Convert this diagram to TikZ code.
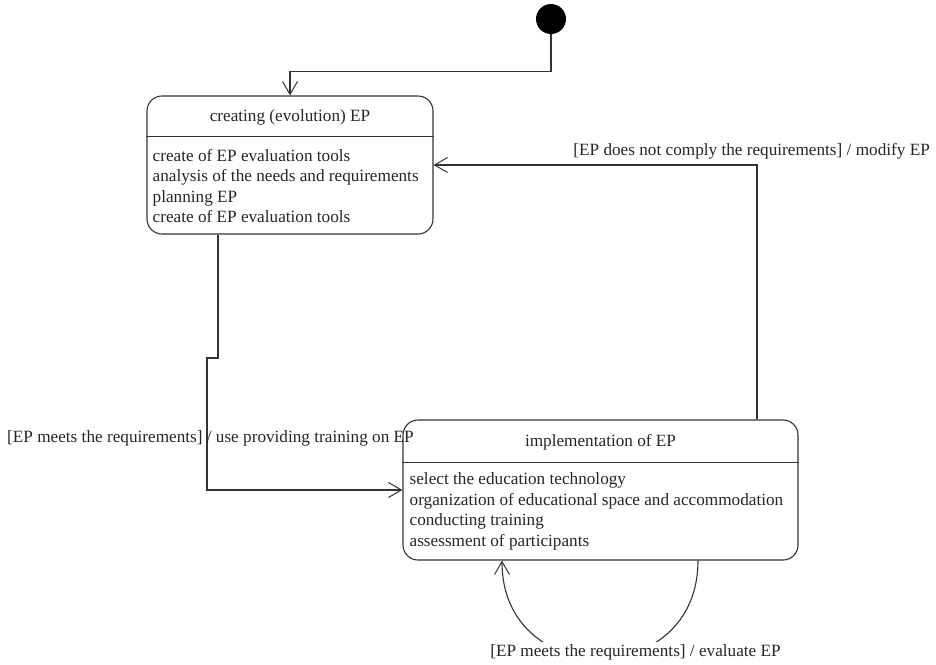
\documentclass[tikz,border=0pt]{standalone}
\usepackage{fontspec}
\setmainfont{Liberation Serif}
\usetikzlibrary{arrows.meta,calc}
\begin{document}
\begin{tikzpicture}[x=1pt,y=-1pt,
  ink/.style={draw=black!80, line width=1.1pt},
  state/.style={ink, rounded corners=15pt, inner sep=0pt},
  txt/.style={inner sep=0pt, text=black!85, font=\fontsize{17.2}{20}\selectfont},
  flow/.style={ink, -{Straight Barb[length=13pt,width=15pt,line width=1pt]}},
  ]
\useasboundingbox (0,0) rectangle (936,664);

% initial pseudo-state
\node[circle, fill=black, minimum size=30pt, inner sep=0pt] (init) at (551,19) {};

% state: creating (evolution) EP
\node[state, minimum width=286pt, minimum height=138pt] (create) at (290,165) {};
\draw[ink] ($(create.north west)+(0,41)$) -- ($(create.north east)+(0,41)$);
\node[txt, anchor=base] (createT) at ($(create.north)+(0,25.7)$) {creating (evolution) EP};
\foreach \t [count=\i] in {create of EP evaluation tools,
                           analysis of the needs and requirements,
                           planning EP,
                           create of EP evaluation tools}
  \node[txt, anchor=base west] (createL\i) at ($(create.north west)+(6,{66+20.3*(\i-1)})$) {\t};

% state: implementation of EP
\node[state, minimum width=395pt, minimum height=140pt] (impl) at (600.5,490) {};
\draw[ink] ($(impl.north west)+(0,43)$) -- ($(impl.north east)+(0,43)$);
\node[txt, anchor=base] (implT) at ($(impl.north)+(0,26.7)$) {implementation of EP};
\foreach \t [count=\i] in {select the education technology,
                           organization of educational space and accommodation,
                           conducting training,
                           assessment of participants}
  \node[txt, anchor=base west] (implL\i) at ($(impl.north west)+(7,{65+20.7*(\i-1)})$) {\t};

% bend points of the routed transitions
\coordinate (j1) at (218,358);
\coordinate (j2) at (207,358);
\coordinate (k) at (757,165);

% transitions
\draw[flow] (init.south) -- ++(0,37) -| (create.north);
\draw[flow] (create.south -| j1) -- (j1) -- (j2) |- (impl.west);
\draw[flow] (impl.north -| k) -- (k) -- (create.east);
\draw[flow] ($(impl.south)+(97.5,0)$) .. controls +(0,130) and +(0,130) .. ($(impl.south)+(-98.5,0)$);

% transition labels
\node[txt, anchor=base east] (modL) at (930,155) {[EP does not comply the requirements] / modify EP};
\node[txt, anchor=base west] (useL) at (7,442) {[EP meets the requirements] / use providing training on EP};
\node[txt, fill=white, inner sep=2pt, anchor=base] (evalL) at (635.5,656) {[EP meets the requirements] / evaluate EP};
\end{tikzpicture}
\end{document}
